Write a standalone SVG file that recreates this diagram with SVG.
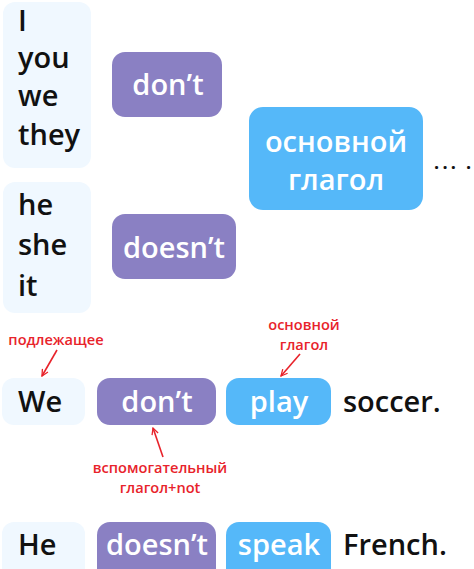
<svg xmlns="http://www.w3.org/2000/svg" width="474" height="569" viewBox="0 0 474 569">
<defs>
<style>
.sub{fill:#f0f8ff}
.aux{fill:#8a80c3}
.verb{fill:#55b8f9}
.bk{font-family:"Open Sans","Liberation Sans",sans-serif;font-size:29px;font-weight:600;fill:#111}
.wt{font-family:"Open Sans","Liberation Sans",sans-serif;font-size:29px;font-weight:600;fill:#fff;text-anchor:middle}
.rd{font-family:"Open Sans","Liberation Sans",sans-serif;font-size:14.6px;fill:#e8232b;text-anchor:middle;font-weight:600}
.dt{font-family:"Open Sans","Liberation Sans",sans-serif;font-size:18px;font-weight:bold;fill:#111}
.ar{stroke:#e8232b;stroke-width:1.6;fill:none}
</style>
<marker id="ah" viewBox="0 0 10 10" refX="9" refY="5" markerWidth="8" markerHeight="8" orient="auto" markerUnits="userSpaceOnUse">
<path d="M1,1 L9,5 L1,9" fill="none" stroke="#e8232b" stroke-width="1.6"/>
</marker>
</defs>
<rect width="474" height="569" fill="#fff"/>
<g id="subj-plural">
<rect class="sub" x="3" y="2" width="88" height="166" rx="12"/>
<text class="bk" x="18" y="31">I</text>
<text class="bk" x="18" y="68">you</text>
<text class="bk" x="18" y="106">we</text>
<text class="bk" x="18" y="145">they</text>
</g>
<g id="subj-singular">
<rect class="sub" x="3" y="182" width="88" height="131" rx="12"/>
<text class="bk" x="18" y="215">he</text>
<text class="bk" x="18" y="255">she</text>
<text class="bk" x="18" y="296">it</text>
</g>
<g id="aux-dont">
<rect class="aux" x="112" y="52" width="110" height="65" rx="13"/>
<text class="wt" x="168" y="95">don’t</text>
</g>
<g id="aux-doesnt">
<rect class="aux" x="112" y="214" width="124" height="65" rx="13"/>
<text class="wt" x="174" y="258">doesn’t</text>
</g>
<g id="main-verb">
<rect class="verb" x="249" y="107" width="174" height="103" rx="14"/>
<text class="wt" x="336" y="152">основной</text>
<text class="wt" x="336" y="190">глагол</text>
</g>
<g id="dots">
<text class="dt" x="434" y="169" style="letter-spacing:3.3px">...</text>
<text class="dt" x="466" y="169">.</text>
</g>
<g id="ex1">
<rect class="sub" x="2" y="378" width="83" height="47" rx="12"/>
<text class="bk" x="18" y="412">We</text>
<rect class="aux" x="97" y="378" width="119" height="47" rx="13"/>
<text class="wt" x="157" y="412">don’t</text>
<rect class="verb" x="226" y="378" width="105" height="47" rx="13"/>
<text class="wt" x="279" y="412">play</text>
<text class="bk" x="343" y="412">soccer.</text>
</g>
<g id="ex2">
<rect class="sub" x="2" y="522" width="83" height="60" rx="12"/>
<text class="bk" x="18" y="555">He</text>
<rect class="aux" x="97" y="522" width="119" height="60" rx="13"/>
<text class="wt" x="157" y="555">doesn’t</text>
<rect class="verb" x="226" y="522" width="105" height="60" rx="13"/>
<text class="wt" x="279" y="555">speak</text>
<text class="bk" x="343" y="555">French.</text>
</g>
<g id="labels">
<text class="rd" x="56" y="345">подлежащее</text>
<text class="rd" x="304" y="330">основной</text>
<text class="rd" x="304" y="350">глагол</text>
<text class="rd" x="160" y="473">вспомогательный</text>
<text class="rd" x="160" y="493">глагол+not</text>
</g>
<g id="connectors">
<line class="ar" x1="57" y1="350" x2="42" y2="376" marker-end="url(#ah)"/>
<line class="ar" x1="300" y1="354" x2="281" y2="376" marker-end="url(#ah)"/>
<line class="ar" x1="163" y1="457" x2="153" y2="428" marker-end="url(#ah)"/>
</g>
</svg>
